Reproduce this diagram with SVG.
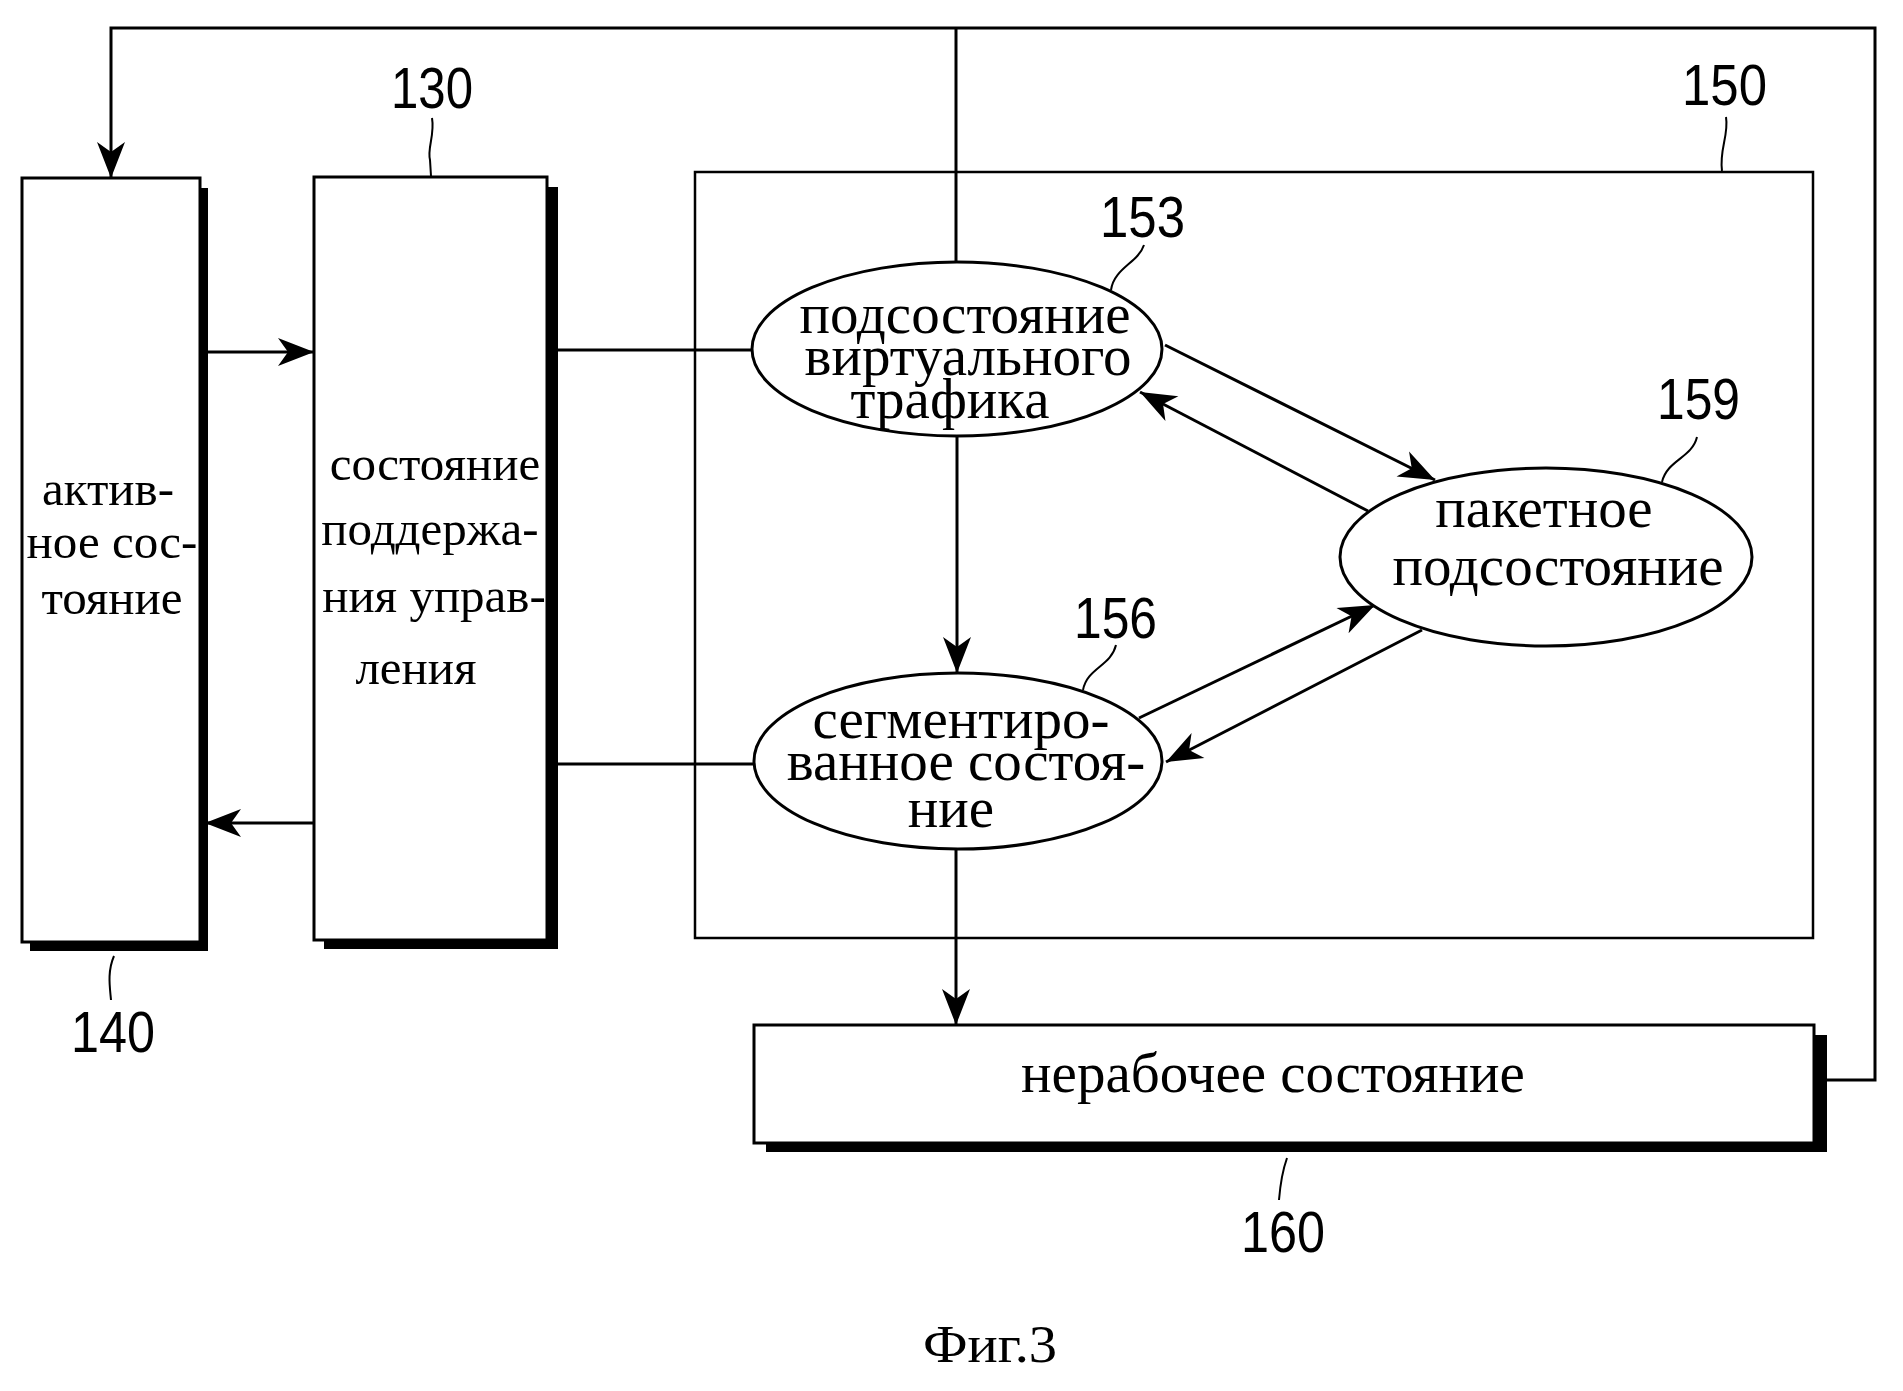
<svg xmlns="http://www.w3.org/2000/svg" width="1903" height="1391" viewBox="0 0 1903 1391">
<defs>
<style>
.box{fill:#fff;stroke:#000;stroke-width:3}
.shadow{fill:#000}
.ell{fill:#fff;stroke:#000;stroke-width:3}
.line{fill:none;stroke:#000;stroke-width:3}
.lead{fill:none;stroke:#000;stroke-width:2}
.t{font-family:"Liberation Serif","Times New Roman",serif;font-size:57px;fill:#000;text-anchor:middle}
.tb{font-family:"Liberation Serif","Times New Roman",serif;font-size:49px;fill:#000;text-anchor:middle}
.num{font-family:"Liberation Sans",Arial,sans-serif;font-size:58px;fill:#000}
.cap{font-family:"Liberation Serif","Times New Roman",serif;font-size:52px;fill:#000}
</style>
<marker id="ah" markerUnits="userSpaceOnUse" viewBox="-38 -16 40 32" refX="0" refY="0" markerWidth="40" markerHeight="32" orient="auto">
<path d="M0,0 L-36,-14 L-26,0 L-36,14 Z" fill="#000"/>
</marker>
</defs>
<rect width="1903" height="1391" fill="#fff"/>

<g id="node-150">
<rect x="695" y="172" width="1118" height="766" fill="none" stroke="#000" stroke-width="2.5"/>
<path class="lead" d="M1726,117 C1729,135 1719,150 1722,171"/>
<text class="num" x="1682" y="105" textLength="85" lengthAdjust="spacingAndGlyphs">150</text>
</g>

<g id="connectors">
<path class="line" d="M1827,1080 H1875 V28 H111 V178" marker-end="url(#ah)"/>
<path class="line" d="M956,28 V262"/>
<path class="line" d="M208,352 H314" marker-end="url(#ah)"/>
<path class="line" d="M557,350 H752"/>
<path class="line" d="M314,823 H205" marker-end="url(#ah)"/>
<path class="line" d="M557,764 H754"/>
<path class="line" d="M957,436 V673" marker-end="url(#ah)"/>
<path class="line" d="M956,850 V1025" marker-end="url(#ah)"/>
<path class="line" d="M1165,345 L1435,480" marker-end="url(#ah)"/>
<path class="line" d="M1368,511 L1140,392" marker-end="url(#ah)"/>
<path class="line" d="M1139,718 L1375,605" marker-end="url(#ah)"/>
<path class="line" d="M1422,630 L1166,762" marker-end="url(#ah)"/>
</g>

<g id="node-140">
<rect class="shadow" x="30" y="188" width="178" height="763"/>
<rect class="box" x="22" y="178" width="178" height="764"/>
<text class="tb" x="108" y="505">актив-</text>
<text class="tb" x="112" y="558">ное сос-</text>
<text class="tb" x="112" y="614">тояние</text>
<path class="lead" d="M114,956 C107,972 110,988 111,1000"/>
<text class="num" x="71" y="1052" textLength="84" lengthAdjust="spacingAndGlyphs">140</text>
</g>

<g id="node-130">
<rect class="shadow" x="324" y="187" width="234" height="762"/>
<rect class="box" x="314" y="177" width="233" height="763"/>
<text class="tb" x="435" y="480">состояние</text>
<text class="tb" x="430" y="545">поддержа-</text>
<text class="tb" x="434" y="612">ния управ-</text>
<text class="tb" x="416" y="684">ления</text>
<path class="lead" d="M432,118 C435,135 427,148 430,160 L431,176"/>
<text class="num" x="391" y="108" textLength="82" lengthAdjust="spacingAndGlyphs">130</text>
</g>

<g id="node-153">
<ellipse class="ell" cx="957" cy="349" rx="205" ry="87"/>
<text class="t" x="965" y="333">подсостояние</text>
<text class="t" x="968" y="375">виртуального</text>
<text class="t" x="950" y="418">трафика</text>
<path class="lead" d="M1144,245 C1138,263 1114,268 1111,290"/>
<text class="num" x="1100" y="237" textLength="85" lengthAdjust="spacingAndGlyphs">153</text>
</g>

<g id="node-156">
<ellipse class="ell" cx="958" cy="761" rx="204" ry="88"/>
<text class="t" x="961" y="738">сегментиро-</text>
<text class="t" x="966" y="780">ванное состоя-</text>
<text class="t" x="951" y="827">ние</text>
<path class="lead" d="M1116,645 C1111,666 1087,668 1083,690"/>
<text class="num" x="1074" y="638" textLength="83" lengthAdjust="spacingAndGlyphs">156</text>
</g>

<g id="node-159">
<ellipse class="ell" cx="1546" cy="557" rx="206" ry="89"/>
<text class="t" x="1544" y="527">пакетное</text>
<text class="t" x="1558" y="585">подсостояние</text>
<path class="lead" d="M1697,437 C1692,458 1667,460 1662,482"/>
<text class="num" x="1657" y="419" textLength="83" lengthAdjust="spacingAndGlyphs">159</text>
</g>

<g id="node-160">
<rect class="shadow" x="766" y="1035" width="1061" height="117"/>
<rect class="box" x="754" y="1025" width="1060" height="118"/>
<text class="t" x="1273" y="1092">нерабочее состояние</text>
<path class="lead" d="M1287,1158 C1281,1175 1280,1188 1279,1200"/>
<text class="num" x="1241" y="1252" textLength="84" lengthAdjust="spacingAndGlyphs">160</text>
</g>

<text class="cap" x="923" y="1362" textLength="134" lengthAdjust="spacingAndGlyphs">Фиг.3</text>
</svg>
